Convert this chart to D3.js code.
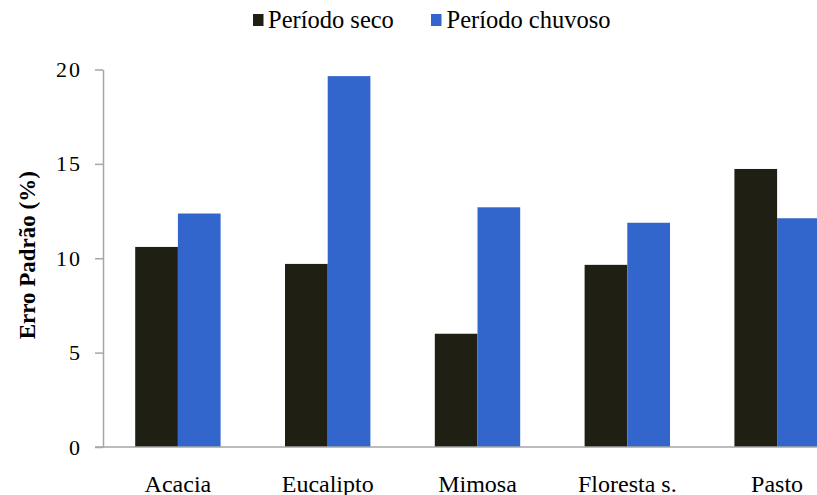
<!DOCTYPE html>
<html>
<head>
<meta charset="utf-8">
<script src="https://cdn.jsdelivr.net/npm/d3@7/dist/d3.min.js"></script>
<style>
  html, body { margin: 0; padding: 0; background: #ffffff; }
  svg { display: block; }
  text { font-family: "Liberation Serif", "Times New Roman", serif; fill: #000; }
</style>
</head>
<body>
<svg id="chart" width="817" height="495"></svg>
<script>
// Categories, series and tick values
const categories = ["Acacia", "Eucalipto", "Mimosa", "Floresta s.", "Pasto"];
const seriesNames = ["Período seco", "Período chuvoso"];
const seriesColors = ["#201f14", "#3366cc"];
const seco = [10.6, 9.7, 6.0, 9.65, 14.73];
const chuvoso = [12.37, 19.65, 12.7, 11.88, 12.12];
const yTicks = [0, 5, 10, 15, 20];
const yTitle = "Erro Padrão (%)";

const W = 817, H = 495;
const svg = d3.select("#chart");

// Plot area (the category axis runs past the right edge of the picture)
const plot = { left: 103, right: 852, top: 69.5, bottom: 447 };

const x = d3.scaleBand()
  .domain(categories)
  .range([plot.left, plot.right])
  .paddingInner(0.43)
  .paddingOuter(0.215);

const xs = d3.scaleBand()
  .domain(seriesNames)
  .range([0, x.bandwidth()])
  .padding(0);

const y = d3.scaleLinear().domain([0, 20]).range([plot.bottom, plot.top]);

const color = d3.scaleOrdinal().domain(seriesNames).range(seriesColors);

const rows = categories.map((c, i) => ({
  category: c,
  values: [
    { series: seriesNames[0], value: seco[i] },
    { series: seriesNames[1], value: chuvoso[i] }
  ]
}));

// Bars
const groups = svg.append("g").selectAll("g")
  .data(rows)
  .join("g")
  .attr("transform", d => `translate(${x(d.category)},0)`);

groups.selectAll("rect")
  .data(d => d.values)
  .join("rect")
  .attr("x", d => xs(d.series))
  .attr("width", xs.bandwidth())
  .attr("y", d => y(d.value))
  .attr("height", d => y(0) - y(d.value))
  .attr("fill", d => color(d.series));

// Y axis
const yAxis = svg.append("g")
  .attr("transform", `translate(${plot.left},0)`)
  .call(d3.axisLeft(y).tickValues(yTicks).tickSize(8).tickSizeOuter(0).tickPadding(13).tickFormat(d3.format("d")));
yAxis.select(".domain").attr("stroke", "#a6a6a6").attr("stroke-width", 1.5);
yAxis.selectAll(".tick line").attr("stroke", "#a6a6a6").attr("stroke-width", 1.5);
yAxis.selectAll(".tick text")
  .attr("font-size", 22)
  .attr("font-family", "Liberation Serif, Times New Roman, serif")
  .attr("letter-spacing", 2)
  .attr("fill", "#000");

// Category baseline
svg.append("line")
  .attr("x1", plot.left - 8).attr("x2", W)
  .attr("y1", y(0)).attr("y2", y(0))
  .attr("stroke", "#a6a6a6").attr("stroke-width", 1.5);

// X axis labels
const xAxis = svg.append("g")
  .attr("transform", `translate(0,${plot.bottom})`)
  .call(d3.axisBottom(x).tickSize(0).tickPadding(0));
xAxis.select(".domain").remove();
xAxis.selectAll(".tick text")
  .attr("y", 45)
  .attr("dy", 0)
  .attr("font-size", 24)
  .attr("font-family", "Liberation Serif, Times New Roman, serif")
  .attr("fill", "#000");

// Y axis title
svg.append("text")
  .attr("transform", `translate(35,${(plot.top + plot.bottom) / 2 - 3}) rotate(-90)`)
  .attr("text-anchor", "middle")
  .attr("font-size", 23)
  .attr("font-weight", "bold")
  .text(yTitle);

// Legend
const legendItems = [
  { name: seriesNames[0], sx: 253, tx: 268 },
  { name: seriesNames[1], sx: 431, tx: 446.5 }
];
const legend = svg.append("g");
legend.selectAll("rect")
  .data(legendItems)
  .join("rect")
  .attr("x", d => d.sx).attr("y", 14)
  .attr("width", 10.5).attr("height", 12)
  .attr("fill", d => color(d.name));
legend.selectAll("text")
  .data(legendItems)
  .join("text")
  .attr("x", d => d.tx).attr("y", 27.5)
  .attr("font-size", 24.5)
  .text(d => d.name);
</script>
</body>
</html>
